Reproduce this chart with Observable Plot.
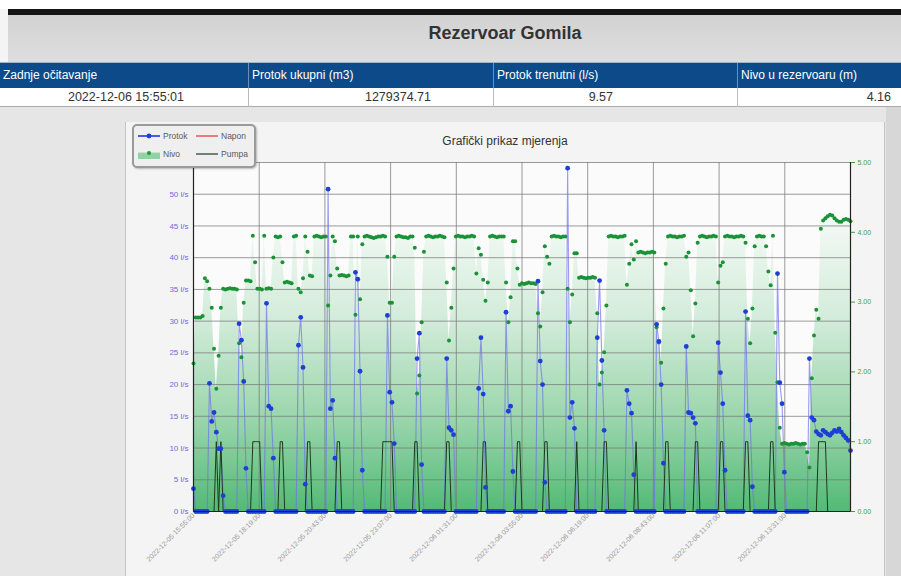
<!DOCTYPE html>
<html>
<head>
<meta charset="utf-8">
<script src="https://cdn.jsdelivr.net/npm/d3@7"></script>
<script src="https://cdn.jsdelivr.net/npm/@observablehq/plot@0.6"></script>
<style>
  html, body { margin: 0; padding: 0; }
  body { width: 901px; height: 576px; overflow: hidden; position: relative; background: #e6e6e6; font-family: Arial, "Liberation Sans", sans-serif; }
  .abs { position: absolute; }
  #topwhite { left: 0; top: 0; width: 901px; height: 9px; background: #fff; }
  #blackbar { left: 8px; top: 9px; width: 893px; height: 6px; background: #151515; }
  #leftstrip { left: 0; top: 9px; width: 8px; height: 53px; background: #f4f4f4; }
  #header { left: 8px; top: 15px; width: 893px; height: 47px; background: linear-gradient(#d2d2d2, #dedede); }
  #title { left: 305px; top: 23px; width: 400px; text-align: center; font-weight: bold; font-size: 18px; color: #333; }
  #thead { left: 0; top: 62px; width: 901px; height: 26px; background: #0c4a8a; border-top: 1px solid #9fb4cc; box-sizing: border-box; }
  .th { top: 62px; height: 26px; line-height: 26px; color: #fff; font-size: 12px; white-space: nowrap; }
  .sepH { top: 63px; width: 1px; height: 25px; background: #6f8fb8; }
  #trow { left: 0; top: 88px; width: 901px; height: 19px; background: #fff; border-bottom: 1px solid #aaa; box-sizing: border-box; }
  .td { top: 88px; height: 19px; line-height: 19px; color: #333; font-size: 12.5px; white-space: nowrap; }
  .sepD { top: 88px; width: 1px; height: 19px; background: #bbb; }
  #panel { left: 125px; top: 122px; width: 760px; height: 460px; background: #f4f4f4; border-left: 1px solid #c4c4c4; border-right: 1px solid #c4c4c4; box-sizing: border-box; }
  #rightstrip { left: 886px; top: 107px; width: 15px; height: 469px; background: #d7d7d7; }
  #ctitle { left: 305px; top: 134px; width: 400px; text-align: center; font-size: 12px; color: #333; }
  #chart { left: 125px; top: 122px; }
  #legend { left: 132px; top: 124px; width: 120px; height: 40px; border: 2px solid #9a9a9a; border-radius: 5px; background: #efefef; box-shadow: 1px 1px 2px rgba(0,0,0,0.25); }
  .li { position: absolute; display: flex; align-items: center; font-size: 8.5px; color: #5a5a5a; }
  .li svg { margin-right: 3px; }
</style>
</head>
<body>
<div id="topwhite" class="abs"></div>
<div id="leftstrip" class="abs"></div>
<div id="blackbar" class="abs"></div>
<div id="header" class="abs"></div>
<div id="title" class="abs">Rezervoar Gomila</div>
<div id="thead" class="abs"></div>
<div id="trow" class="abs"></div>
<div id="rightstrip" class="abs"></div>
<div id="panel" class="abs"></div>
<div id="ctitle" class="abs">Grafički prikaz mjerenja</div>
<div id="chart" class="abs"></div>
<div id="legend" class="abs">
  <div class="li" style="left:4px;top:5px"><svg width="22" height="10"><line x1="0" y1="5" x2="22" y2="5" stroke="#4a5de6" stroke-width="2"/><circle cx="11" cy="5" r="2.4" fill="#1d3fd4"/></svg><span>Protok</span></div>
  <div class="li" style="left:62px;top:5px"><svg width="22" height="10"><line x1="0" y1="5" x2="22" y2="5" stroke="#ee5555" stroke-width="1.5"/></svg><span>Napon</span></div>
  <div class="li" style="left:4px;top:23px"><svg width="22" height="10"><rect x="0" y="4" width="22" height="6" fill="#8fd3a4"/><line x1="0" y1="4" x2="22" y2="4" stroke="#9ad9ad" stroke-width="1"/><circle cx="11" cy="4" r="2" fill="#1f9a3c"/></svg><span>Nivo</span></div>
  <div class="li" style="left:62px;top:23px"><svg width="22" height="10"><line x1="0" y1="5" x2="22" y2="5" stroke="#1c3a1c" stroke-width="1.2"/></svg><span>Pumpa</span></div>
</div>
<script>
// ---------- table values ----------
const headerLabels = ["Zadnje očitavanje", "Protok ukupni (m3)", "Protok trenutni (l/s)", "Nivo u rezervoaru (m)"];
const rowValues = ["2022-12-06 15:55:01", "1279374.71", "9.57", "4.16"];

// ---------- chart data (5-minute readings, 2022-12-05 15:55 -> 2022-12-06 15:55) ----------
const startTime = "2022-12-05 15:55:00";
const stepMinutes = 5;

// Protok (l/s)
const protok = [3.6,
0,0,0,0,0,0,
20.2,14.2,15.6,12.5,9.9,9.9,2.5,
0,0,0,0,0,0,
29.6,27.0,20.5,6.8,
0,0,0,0,0,0,0,0,
32.8,16.6,16.2,8.4,
0,0,0,0,0,0,0,0,0,0,
26.2,30.6,22.7,4.3,
0,0,0,0,0,0,0,0,0,
50.8,16.2,17.5,8.4,
0,0,0,0,0,0,0,0,
37.7,36.6,22.1,6.5,
0,0,0,0,0,0,0,0,0,0,
30.9,18.8,17.2,10.7,
0,0,0,0,0,0,0,0,0,
24.1,28.1,7.4,
0,0,0,0,0,0,0,0,0,0,
24.1,13.2,12.8,12.1,
0,0,0,0,0,0,0,0,0,0,
19.4,27.4,18.5,3.8,
0,0,0,0,0,0,0,0,
31.4,15.8,16.6,6.3,
0,0,0,0,0,0,0,0,0,0,
36.3,23.7,20.0,4.6,
0,0,0,0,0,0,0,0,0,
54.1,14.8,17.2,13.1,
0,0,0,0,0,0,0,0,0,
27.4,36.4,23.8,12.8,
0,0,0,0,0,0,0,0,0,
19.1,17.0,15.5,5.8,
0,0,0,0,0,0,0,0,0,
29.5,26.8,20.0,7.6,
0,0,0,0,0,0,0,0,0,
26.0,15.6,15.5,14.8,13.9,
0,0,0,0,0,0,0,0,0,
26.6,21.9,17.0,6.5,
0,0,0,0,0,0,0,0,
31.5,15.1,14.4,3.9,
0,0,0,0,0,0,0,0,0,0,
37.5,20.3,17.0,6.2,
0,0,0,0,0,0,0,0,0,0,
24.1,14.8,14.4,12.6,12.2,12.0,12.8,12.5,12.2,12.0,12.4,12.8,12.6,13.0,12.5,12.0,11.6,11.2,9.6];

// Nivo (m)
const nivo = [2.12,
2.78,2.78,2.78,2.80,
3.34,3.30,3.19,2.92,2.33,1.76,2.23,2.92,
3.19,3.18,3.19,3.20,3.19,3.19,3.18,
2.41,2.21,2.99,3.31,3.31,3.30,3.95,3.57,
3.19,3.19,3.18,
3.95,
3.19,3.20,3.19,
3.64,
3.94,3.93,3.94,
3.57,
3.28,3.29,3.28,3.27,
3.94,3.95,
3.19,3.14,3.34,3.94,3.72,3.38,3.37,
3.94,3.95,3.94,3.93,3.94,3.94,
2.95,3.38,3.94,3.87,3.48,
3.38,3.39,3.38,3.37,3.38,
3.94,3.94,2.82,3.94,3.04,3.83,
3.94,3.95,3.94,3.93,3.92,3.93,3.94,3.94,3.95,3.94,
3.65,2.99,2.99,3.65,
3.94,3.95,3.94,3.93,3.93,3.92,3.94,3.94,
3.78,1.69,1.95,2.71,3.72,
3.94,3.95,3.94,3.93,3.94,3.94,3.95,3.94,3.93,
3.28,2.45,2.92,3.48,
3.94,3.95,3.94,3.94,3.93,3.94,3.94,3.95,3.94,
3.41,3.77,3.68,3.32,3.02,3.28,
3.94,3.95,3.94,3.93,3.94,3.94,3.94,
3.28,2.71,3.07,3.87,3.87,3.48,3.25,
3.27,3.26,3.27,3.28,3.27,3.27,3.26,
2.84,2.65,3.14,3.80,3.65,3.55,
3.94,3.95,3.94,3.94,3.93,3.94,3.94,
3.19,2.71,3.11,3.70,3.70,
3.35,3.36,3.35,3.34,3.35,3.35,3.36,3.35,
2.84,1.82,1.99,2.28,2.95,
3.94,3.95,3.94,3.94,3.93,3.94,3.94,3.95,
3.25,3.55,3.83,3.61,3.87,
3.71,3.72,3.71,3.70,3.71,3.71,3.72,3.71,
2.64,2.42,2.13,2.91,3.55,
3.94,3.95,3.94,3.94,3.93,3.94,3.94,3.95,
3.65,3.71,3.17,2.51,2.98,3.85,
3.94,3.95,3.94,3.93,3.94,3.94,3.95,3.94,
3.28,3.52,3.57,
3.94,3.95,3.94,3.94,3.93,3.94,3.94,3.95,3.94,
3.85,2.76,2.41,2.91,3.80,
3.94,3.95,3.94,3.94,
3.80,3.44,3.24,3.95,2.56,1.85,1.20,
0.97,0.98,0.97,0.96,0.97,0.97,0.98,0.97,0.96,0.97,0.97,
0.85,0.63,1.91,2.52,2.89,2.76,4.05,
4.17,4.20,4.23,4.25,4.24,4.20,4.17,4.15,4.15,4.18,4.19,4.18,4.16];

// Pumpa: reading numbers (0-based) at which the pump was on (value 1)
const pumpOnReadings = [10,12,26,27,28,29,38,39,50,51,63,64,83,84,85,86,87,97,98,111,112,127,128,142,143,154,155,168,180,181,194,207,208,220,221,231,232,242,243,253,254,274,275,276,277];

// Axis ticks
const xTickLabels = ["2022-12-05 15:55:00","2022-12-05 18:19:00","2022-12-05 20:43:00","2022-12-05 23:07:00","2022-12-06 01:31:00","2022-12-06 03:55:00","2022-12-06 06:19:00","2022-12-06 08:43:00","2022-12-06 11:07:00","2022-12-06 13:31:00","2022-12-06 15:55:00"];
const leftTicks = [0,5,10,15,20,25,30,35,40,45,50,55];   // l/s
const rightTicks = [0,1,2,3,4,5];                          // m
const M_TO_LS = 11; // 5 m on the right axis spans the same height as 55 l/s on the left axis

if (protok.length !== nivo.length) throw new Error("length mismatch " + protok.length + " vs " + nivo.length);

// ---------- table ----------
const headerLeft = [3, 252, 497, 741];
const sepX = [248, 493, 737];
headerLabels.forEach((t, i) => {
  const d = document.createElement("div");
  d.className = "abs th"; d.style.left = headerLeft[i] + "px"; d.textContent = t;
  document.body.appendChild(d);
});
sepX.forEach(x => {
  const a = document.createElement("div"); a.className = "abs sepH"; a.style.left = x + "px"; document.body.appendChild(a);
  const b = document.createElement("div"); b.className = "abs sepD"; b.style.left = x + "px"; document.body.appendChild(b);
});
const valueBoxes = [[4, 248, "center"], [249, 431, "right"], [494, 613, "right"], [738, 891, "right"]];
rowValues.forEach((t, i) => {
  const [l, r, al] = valueBoxes[i];
  const d = document.createElement("div");
  d.className = "abs td"; d.style.left = l + "px"; d.style.width = (r - l) + "px"; d.style.textAlign = al; d.textContent = t;
  document.body.appendChild(d);
});

// ---------- chart ----------
const parse = d3.timeParse("%Y-%m-%d %H:%M:%S");
const startDate = parse(startTime);
const rows = protok.map((p, i) => ({
  t: new Date(startDate.getTime() + i * stepMinutes * 60000),
  p,
  n: nivo[i],
  u: pumpOnReadings.includes(i) ? 1 : 0
}));
const xTicks = xTickLabels.map(parse);
const fmt = d3.timeFormat("%Y-%m-%d %H:%M:%S");

const chart = Plot.plot({
  width: 760,
  height: 454,
  marginLeft: 68,
  marginRight: 35,
  marginTop: 40,
  marginBottom: 65,
  style: { background: "transparent", fontFamily: "Arial, 'Liberation Sans', sans-serif", overflow: "visible" },
  x: { type: "time", domain: [xTicks[0], xTicks[xTicks.length - 1]] },
  y: { domain: [0, 55] },
  marks: [
    Plot.frame({ fill: "#fbfbfb", stroke: null }),
    Plot.areaY(rows, { x: "t", y: d => d.n * M_TO_LS, fill: "url(#nivoGrad)", curve: "linear" }),
    Plot.gridY({ ticks: leftTicks, stroke: "#7a7a7a", strokeOpacity: 0.75 }),
    Plot.gridX({ ticks: xTicks, stroke: "#7a7a7a", strokeOpacity: 0.75 }),
    Plot.line(rows, { x: "t", y: "p", stroke: "#7070ee", strokeOpacity: 0.7, strokeWidth: 1.1 }),
    Plot.line(rows, { x: "t", y: d => d.u * M_TO_LS, stroke: "#1c3a1c", strokeWidth: 1 }),
    Plot.dot(rows, { x: "t", y: d => d.n * M_TO_LS, r: 2, fill: "#1c9238", stroke: null }),
    Plot.dot(rows, { x: "t", y: "p", r: 2.4, fill: "#1d3fd4", stroke: null }),
    Plot.ruleY([0], { stroke: "#222", strokeWidth: 1.2 }),
    Plot.ruleX([xTicks[0], xTicks[xTicks.length - 1]], { stroke: "#222", strokeWidth: 1.2 }),
    Plot.axisY({ anchor: "left", ticks: leftTicks, tickFormat: d => d + " l/s", tickSize: 0, tickPadding: 5, fontSize: 8, color: "#6b6be6", label: null }),
    Plot.axisY({ anchor: "right", ticks: rightTicks.map(v => v * M_TO_LS), tickFormat: d => (d / M_TO_LS).toFixed(2), tickSize: 4, tickPadding: 3, fontSize: 7, color: "#3f9f3f", label: null }),
    Plot.axisX({ ticks: xTicks.slice(0, 10), tickFormat: fmt, tickRotate: -45, tickSize: 0, tickPadding: 3, fontSize: 7, color: "#999", label: null })
  ]
});

const ns = "http://www.w3.org/2000/svg";
const defs = document.createElementNS(ns, "defs");
defs.innerHTML = '<linearGradient id="nivoGrad" x1="0" y1="0" x2="0" y2="1">' +
  '<stop offset="0" stop-color="#f4faf6"/>' +
  '<stop offset="0.35" stop-color="#d3ecda"/>' +
  '<stop offset="0.7" stop-color="#98d5aa"/>' +
  '<stop offset="1" stop-color="#52ba76"/>' +
  '</linearGradient>';
chart.insertBefore(defs, chart.firstChild);
document.getElementById("chart").appendChild(chart);
</script>
</body>
</html>
